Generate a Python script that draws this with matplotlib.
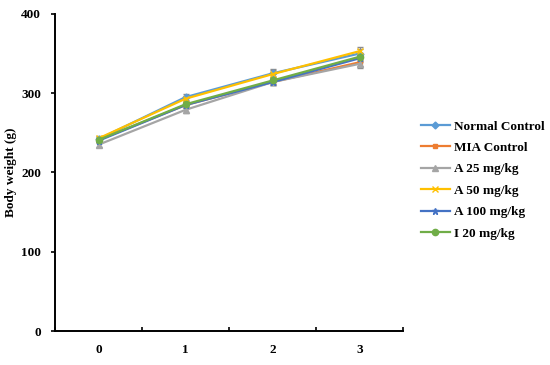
import numpy as np
import matplotlib.pyplot as plt
from matplotlib.ticker import FixedLocator

plt.rcParams['font.family'] = ['Liberation Serif', 'DejaVu Serif']
plt.rcParams['font.weight'] = 'bold'

weeks = [0, 1, 2, 3]
groups = ['Normal Control', 'MIA Control', 'A 25 mg/kg', 'A 50 mg/kg', 'A 100 mg/kg', 'I 20 mg/kg']
normal = [242, 295, 325, 350]
mia = [241, 285, 314, 339]
a25 = [235, 279, 314, 337]
a50 = [243, 293, 324, 353]
a100 = [240, 285, 314, 344]
i20 = [241, 286, 316, 346]
errs = [[3, 4, 5, 6], [3, 4, 4, 5], [3, 4, 4, 5], [3, 4, 5, 5], [3, 4, 4, 5], [3, 4, 4, 5]]

colors = ['#5B9BD5', '#ED7D31', '#A5A5A5', '#FFC000', '#4472C4', '#70AD47']
markers = ['D', 's', '^', 'x', '*', 'o']
msizes = [3.5, 3.5, 4.5, 5, 5, 4.5]

fig = plt.figure(figsize=(5.5, 3.65), dpi=100)
ax = fig.add_axes([0.1, 0.093, 0.633, 0.869])

series = [normal, mia, a25, a50, a100, i20]
for vals, err, name, c, m, ms in zip(series, errs, groups, colors, markers, msizes):
    ax.errorbar(weeks, vals, yerr=err, color=c, ecolor='#8c8c8c', elinewidth=0.8,
                capsize=2, capthick=0.8, lw=1.6, marker=m, ms=ms, mew=1.0, label=name)

ax.set_xlim(-0.5, 3.5)
ax.set_ylim(0, 400)
ax.set_yticks([0, 100, 200, 300, 400])
ax.set_xticks(weeks)
ax.xaxis.set_minor_locator(FixedLocator([-0.5, 0.5, 1.5, 2.5, 3.5]))
ax.tick_params(axis='x', which='major', length=0, pad=9, labelsize=9.5)
ax.tick_params(axis='x', which='minor', length=3, direction='in', width=1.2)
ax.tick_params(axis='y', length=3, width=1.2, labelsize=9.5, pad=7)
for lab in ax.get_xticklabels() + ax.get_yticklabels():
    lab.set_fontweight('bold')

ax.spines['top'].set_visible(False)
ax.spines['right'].set_visible(False)
ax.spines['left'].set_linewidth(1.4)
ax.spines['bottom'].set_linewidth(1.4)
ax.set_ylabel('Body weight (g)', fontsize=9.5, fontweight='bold', labelpad=3)

handles, labels = ax.get_legend_handles_labels()
handles = [h[0] for h in handles]
fig.legend(handles, labels, loc='upper left', bbox_to_anchor=(0.743, 0.703),
           frameon=False, handlelength=2.2, handletextpad=0.3,
           labelspacing=0.7, prop={'weight': 'bold', 'size': 9.5})

fig.savefig('out.png', dpi=100)
